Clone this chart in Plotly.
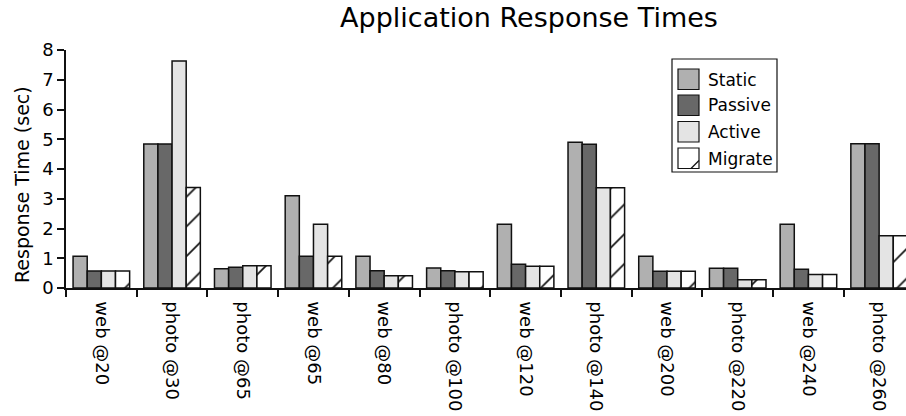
import plotly.graph_objects as go

# Workload/rate combinations on the x axis
categories = ["web @20", "photo @30", "photo @65", "web @65", "web @80", "photo @100",
              "web @120", "photo @140", "web @200", "photo @220", "web @240", "photo @260"]

# Mean response time (seconds) per placement policy
static_vals = [1.07, 4.84, 0.65, 3.10, 1.07, 0.67, 2.14, 4.90, 1.07, 0.66, 2.14, 4.85]
passive_vals = [0.57, 4.84, 0.70, 1.07, 0.58, 0.58, 0.80, 4.83, 0.56, 0.66, 0.63, 4.85]
active_vals = [0.57, 7.63, 0.75, 2.14, 0.41, 0.55, 0.73, 3.37, 0.56, 0.28, 0.45, 1.76]
migrate_vals = [0.57, 3.38, 0.75, 1.07, 0.41, 0.55, 0.73, 3.37, 0.56, 0.28, 0.45, 1.76]

series_names = ["Static", "Passive", "Active", "Migrate"]
y_ticks = [0, 1, 2, 3, 4, 5, 6, 7, 8]

W, H = 906, 416
ML, MR, MT, MB = 66, 0, 50, 128
PW, PH = W - ML - MR, H - MT - MB
FONT = "DejaVu Sans"


def px_x(x):
    return (x - ML) / PW


def px_y(y):
    return (H - MB - y) / PH


fills = {"Static": "#b0b0b0", "Passive": "#686868", "Active": "#e4e4e4", "Migrate": "#ffffff"}
outline = dict(color="#111111", width=1.5)

fig = go.Figure()
for name, vals in zip(series_names, [static_vals, passive_vals, active_vals, migrate_vals]):
    marker = dict(color=fills[name], line=outline)
    if name == "Migrate":
        marker["pattern"] = dict(shape="/", size=21, solidity=0.08, fgopacity=1,
                                 fgcolor="#111111", bgcolor="#ffffff", fillmode="overlay")
    fig.add_trace(go.Bar(name=name, x=categories, y=vals, marker=marker, showlegend=False))

# Hand-drawn legend box with larger swatches
shapes = [dict(type="rect", xref="paper", yref="paper",
               x0=px_x(672), x1=px_x(777), y0=px_y(59), y1=px_y(172),
               line=dict(color="#111111", width=1.2), fillcolor="#ffffff", layer="above")]
annotations = []
row_top = [69, 95, 121.5, 148]
for name, top in zip(series_names, row_top):
    shapes.append(dict(type="rect", xref="paper", yref="paper",
                       x0=px_x(678), x1=px_x(699), y0=px_y(top), y1=px_y(top + 20.5),
                       line=dict(color="#111111", width=1.2), fillcolor=fills[name], layer="above"))
    if name == "Migrate":
        shapes.append(dict(type="line", xref="paper", yref="paper",
                           x0=px_x(691), x1=px_x(699), y0=px_y(top + 20.5), y1=px_y(top + 12.5),
                           line=dict(color="#111111", width=1.3), layer="above"))
    annotations.append(dict(text=name, xref="paper", yref="paper",
                            x=px_x(706), y=px_y(top + 10.5), xanchor="left", yanchor="middle",
                            showarrow=False, font=dict(family=FONT, size=17, color="#000000")))

annotations.append(dict(text="Response Time (sec)", xref="paper", yref="paper",
                        x=px_x(22), y=px_y(185), xanchor="center", yanchor="middle",
                        textangle=-90, showarrow=False,
                        font=dict(family=FONT, size=19, color="#000000")))

fig.update_layout(
    width=W, height=H,
    margin=dict(l=ML, r=MR, t=MT, b=MB, pad=0),
    paper_bgcolor="#ffffff", plot_bgcolor="#ffffff",
    barmode="group", bargap=0.2, bargroupgap=0,
    title=dict(text="Application Response Times", x=529 / W, xanchor="center",
               y=1 - 18 / H, yanchor="middle", yref="container",
               font=dict(family=FONT, size=27, color="#000000")),
    font=dict(family=FONT, color="#000000"),
    shapes=shapes, annotations=annotations,
)

fig.update_xaxes(
    type="category", range=[-0.5, 11.38], showgrid=False, zeroline=False,
    showline=True, linecolor="#111111", linewidth=1.5,
    ticks="outside", tickson="boundaries", ticklen=7, tickwidth=1.5, tickcolor="#111111",
    tickangle=90, ticklabelstandoff=8, tickfont=dict(family=FONT, size=18, color="#000000"),
)
fig.update_yaxes(
    range=[0, 8], tickvals=y_ticks, showgrid=False, zeroline=False,
    showline=True, linecolor="#111111", linewidth=1.5,
    ticks="outside", ticklen=7, tickwidth=1.5, tickcolor="#111111",
    tickfont=dict(family=FONT, size=18, color="#000000"),
)

fig.write_html("out.html")
